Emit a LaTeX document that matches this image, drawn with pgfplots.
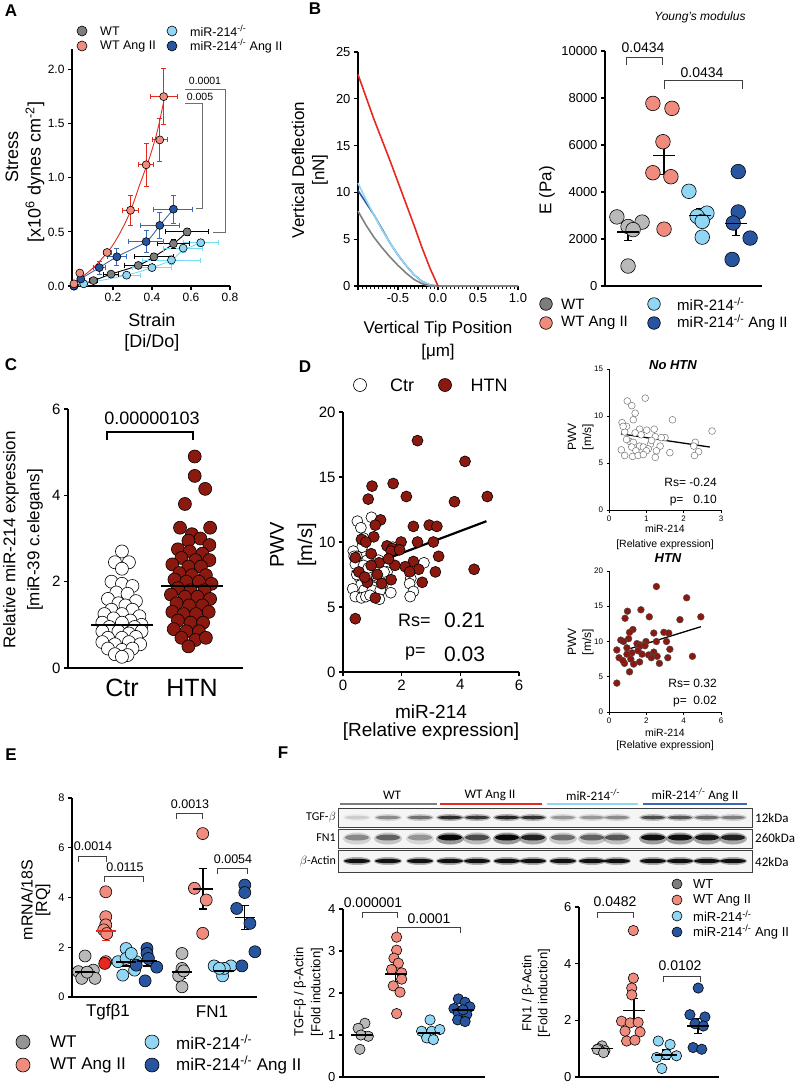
\documentclass[border=0pt]{standalone}
\usepackage{pgfplots}
\usepackage{pgfplotstable}
\pgfplotsset{compat=1.18}
\usepackage{fontspec}
\setmainfont{Liberation Sans}
\newfontfamily\calib{Carlito}
\newcommand{\fs}[1]{\fontsize{#1}{#1}\selectfont}
\newcommand{\ko}{\textsuperscript{-/-}}
\definecolor{wtd}{RGB}{125,125,125}
\definecolor{wtl}{RGB}{185,185,185}
\definecolor{sal}{RGB}{240,140,125}
\definecolor{lb}{RGB}{145,215,245}
\definecolor{db}{RGB}{40,85,160}
\definecolor{htn}{RGB}{140,25,15}
\definecolor{redl}{RGB}{230,40,30}
\definecolor{cyl}{RGB}{120,220,240}
\definecolor{bll}{RGB}{55,105,180}
\definecolor{brk}{RGB}{110,110,110}
\pgfplotsset{
  gp/.style={scale only axis, axis lines=left,
    axis line style={-, line width=1.4pt, black},
    tick align=outside, major tick length=4pt,
    tick style={line width=1.2pt, black},
    /pgf/number format/assume math mode=true, clip=false},
  dots/.style 2 args={only marks, mark=*, mark size=#2,
    mark options={fill=#1, draw=black, line width=0.6pt}},
  meanbar/.style={only marks, mark=-, mark size=#1,
    mark options={draw=black, line width=1.5pt},
    error bars/y dir=both, error bars/y explicit,
    error bars/error bar style={line width=1.5pt, black},
    error bars/error mark options={rotate=90, line width=1.5pt, black, mark size=4pt}},
  xyerr/.style={error bars/x dir=both, error bars/x explicit, error bars/y dir=both, error bars/y explicit,
    error bars/error bar style={#1, line width=0.9pt},
    error bars/error mark options={rotate=90, #1, line width=0.9pt, mark size=2.5pt}},
}
\pgfplotstableread[row sep=\\]{x y\\
2.54 17.8\\ 4.16 16.2\\ 1.71 14.5\\ 0.99 14.3\\ 0.86 13.3\\ 2.16 13.5\\ 3.80 13.1\\ 4.92 13.5\\
1.28 11.7\\ 1.10 11.3\\ 2.94 11.3\\ 3.20 11.2\\ 2.40 11.2\\ 1.05 10.4\\ 0.63 10.2\\ 0.78 10.0\\
1.98 10.0\\ 2.54 10.0\\ 3.08 10.0\\ 1.50 9.7\\ 1.68 9.5\\ 0.42 8.8\\ 0.96 9.1\\ 1.64 9.3\\
3.26 8.9\\ 2.40 8.5\\ 1.23 8.4\\ 0.96 8.2\\ 1.77 8.2\\ 2.12 8.1\\ 2.58 7.9\\ 4.47 7.9\\
0.54 7.7\\ 2.27 7.7\\ 3.15 7.7\\ 1.17 7.5\\ 0.83 6.9\\ 1.32 6.8\\ 1.64 7.1\\ 2.70 6.9\\
1.10 5.7\\ 0.42 4.1\\ 1.55 8.7\\ 1.93 9.4\\ 0.74 7.3\\
}\htndata
\pgfplotstableread[row sep=\\]{x y\\
0.49 11.6\\ 0.97 11.9\\ 0.61 11.1\\ 0.70 10.3\\ 0.65 9.6\\ 1.70 9.6\\ 0.35 9.3\\ 0.47 8.9\\
1.01 8.5\\ 1.21 8.6\\ 0.82 8.6\\ 2.76 8.4\\ 0.42 8.3\\ 0.70 8.2\\ 0.86 8.0\\ 1.24 7.8\\
1.50 7.7\\ 0.55 7.3\\ 0.65 7.2\\ 1.11 7.0\\ 0.82 6.8\\ 1.37 6.8\\ 2.31 7.2\\ 2.27 6.8\\
0.61 6.7\\ 0.92 6.7\\ 1.05 6.5\\ 0.33 6.4\\ 0.72 6.3\\ 1.00 6.3\\ 1.27 6.3\\ 1.63 6.1\\
2.40 6.2\\ 0.42 5.8\\ 0.63 5.7\\ 0.78 5.8\\ 0.92 5.9\\ 1.24 5.6\\ 2.29 5.8\\ 0.38 8.9\\
1.14 7.4\\ 1.40 7.7\\ 0.47 7.5\\
}\ctrdata
\begin{document}
\begin{tikzpicture}[x=1pt,y=1pt]
\useasboundingbox (0pt,0pt) rectangle (800pt,-1085pt);
% ---------------- panel letters
\foreach \l/\px/\py in {A/11/-11, B/315/-9, C/11/-365, D/305/-367, E/11/-755, F/283/-753}
  \node[font=\fs{17}\bfseries, inner sep=0] at (\px pt,\py pt) {\l};

% ================= A
\begin{axis}[gp, anchor=south west, at={(72pt,-286pt)}, width=158pt, height=237pt,
  xmin=-0.01, xmax=0.8, ymin=0, ymax=2.19,
  xtick={0.2,0.4,0.6,0.8}, ytick={0,0.5,1,1.5,2},
  tick label style={font=\fs{12}},
  yticklabel style={/pgf/number format/.cd, fixed, fixed zerofill, precision=1},
  xticklabel style={/pgf/number format/.cd, fixed, fixed zerofill, precision=1}]
\addplot[cyl, line width=0.9pt, smooth] coordinates {(0,0) (0.05,0.02) (0.27,0.1) (0.4,0.17) (0.5,0.24) (0.56,0.33) (0.65,0.4)};
\addplot[black, line width=0.9pt, smooth] coordinates {(0,0) (0.1,0.05) (0.19,0.11) (0.33,0.19) (0.41,0.27) (0.51,0.39) (0.58,0.5)};
\addplot[bll, line width=0.9pt, smooth] coordinates {(0,0) (0.035,0.065) (0.13,0.17) (0.22,0.27) (0.37,0.41) (0.44,0.56) (0.51,0.71)};
\addplot[redl, line width=0.9pt, smooth] coordinates {(0,0.03) (0.1,0.17) (0.2,0.38) (0.28,0.65) (0.34,0.95) (0.39,1.2) (0.43,1.45) (0.465,1.75)};
\addplot[dots={lb}{4}, xyerr=cyl]
  table[x error=ex, y error=ey, row sep=\\] {x y ex ey\\ 0 0 0 0\\ 0.05 0.02 0.02 0.01\\ 0.27 0.10 0.07 0.02\\ 0.40 0.17 0.10 0.03\\ 0.50 0.24 0.15 0.04\\ 0.56 0.35 0.10 0.04\\ 0.65 0.40 0.09 0.03\\};
\addplot[dots={wtd}{4}, xyerr=black]
  table[x error=ex, y error=ey, row sep=\\] {x y ex ey\\ 0 0 0 0\\ 0.10 0.05 0.02 0.01\\ 0.19 0.11 0.04 0.02\\ 0.33 0.19 0.07 0.03\\ 0.41 0.27 0.10 0.03\\ 0.51 0.39 0.08 0.04\\ 0.58 0.50 0.11 0.03\\};
\addplot[dots={db}{4}, xyerr=bll]
  table[x error=ex, y error=ey, row sep=\\] {x y ex ey\\ 0 0 0 0\\ 0.035 0.065 0.01 0.02\\ 0.13 0.17 0.03 0.06\\ 0.22 0.27 0.05 0.08\\ 0.37 0.41 0.09 0.10\\ 0.44 0.56 0.10 0.12\\ 0.51 0.71 0.10 0.13\\};
\addplot[dots={sal}{4}, xyerr=redl]
  table[x error=ex, y error=ey, row sep=\\] {x y ex ey\\ 0 0.02 0 0\\ 0.03 0.12 0.01 0.02\\ 0.17 0.31 0.02 0.03\\ 0.29 0.70 0.04 0.14\\ 0.37 1.12 0.04 0.20\\ 0.44 1.35 0.04 0.20\\ 0.46 1.75 0.07 0.26\\};
\end{axis}

% ================= B left
\begin{axis}[gp, anchor=south west, at={(358pt,-286pt)}, width=160pt, height=234pt,
  xmin=-1, xmax=1, ymin=0, ymax=25,
  xtick={-1,-0.5,0,0.5,1}, xticklabels={,-0.5,0.0,0.5,1.0},
  extra x ticks={-0.95,-0.9,-0.85,-0.8,-0.75,-0.7,-0.65,-0.6,-0.55,-0.45,-0.4,-0.35,-0.3,-0.25,-0.2,-0.15,-0.1,-0.05,0.05,0.1,0.15,0.2,0.25,0.3,0.35,0.4,0.45,0.55,0.6,0.65,0.7,0.75,0.8,0.85,0.9,0.95},
  extra x tick labels={},
  extra x tick style={major tick length=3pt, tick style={line width=0.8pt, black}},
  ytick={0,5,10,15,20,25}, tick label style={font=\fs{13}}]
\addplot[db, line width=1.6pt] coordinates {(-1,10.2) (-0.9,8.9) (-0.8,7.6) (-0.7,6.1) (-0.6,4.6) (-0.5,3.3) (-0.4,2.2) (-0.3,1.2) (-0.2,0.5) (-0.1,0.1) (0,0)};
\addplot[lb, line width=1.6pt] coordinates {(-1,11) (-0.9,9.2) (-0.8,7.6) (-0.7,6.0) (-0.6,4.6) (-0.5,3.3) (-0.4,2.2) (-0.3,1.2) (-0.2,0.5) (-0.1,0.1) (0,0) (1,0)};
\addplot[gray, line width=1.6pt] coordinates {(-1,8) (-0.9,6.5) (-0.8,5.2) (-0.7,4.1) (-0.6,3.1) (-0.5,2.2) (-0.4,1.4) (-0.3,0.7) (-0.2,0.25) (-0.1,0) (1,0)};
\addplot[redl, line width=1.6pt] coordinates {(-1,22.6) (-0.9,20.2) (-0.8,17.8) (-0.7,15.6) (-0.6,13.4) (-0.5,11.1) (-0.4,8.8) (-0.3,6.5) (-0.2,4.1) (-0.1,1.9) (0,0)};
\end{axis}

% ================= B right
\begin{axis}[gp, anchor=south west, at={(605pt,-286pt)}, width=157pt, height=235pt,
  xmin=0.36, xmax=4.72, ymin=0, ymax=10000, xtick=\empty,
  ytick={0,2000,4000,6000,8000,10000}, scaled y ticks=false,
  yticklabel style={/pgf/number format/1000 sep={}}, tick label style={font=\fs{13}}]
\addplot[dots={wtl}{7.3}] coordinates {(0.69,2940) (1.39,2720) (1.0,2530) (1.14,2400) (1.0,850)};
\addplot[dots={sal}{7.3}] coordinates {(1.69,7770) (2.22,7560) (1.97,6140) (1.69,4820) (2.19,4650) (2.0,2420)};
\addplot[dots={lb}{7.3}] coordinates {(2.69,4030) (3.19,3100) (2.92,2960) (3.06,2750) (3.06,2080)};
\addplot[dots={db}{7.3}] coordinates {(4.06,4870) (4.06,3150) (3.92,2680) (4.39,2040) (3.89,1130)};
\addplot[meanbar=11] coordinates {(1,2300) +- (0,370) (2,5550) +- (0,800) (3,3000) +- (0,300) (4,2650) +- (0,500)};
\end{axis}

% ================= C
\begin{axis}[gp, anchor=south west, at={(68pt,-668pt)}, width=175pt, height=259pt,
  xmin=0.229, xmax=2.73, ymin=0, ymax=6, xtick=\empty, ytick={0,2,4,6},
  tick label style={font=\fs{15}}]
\addplot[dots={white}{6.5}] coordinates {(1.0,2.7) (0.9,2.45) (1.1,2.45) (1.0,2.3) (0.85,2.0) (1.0,1.95) (1.15,1.9) (0.92,1.75) (1.08,1.72) (0.8,1.6) (1.2,1.55) (0.95,1.5) (1.05,1.45) (0.85,1.35) (1.15,1.35) (0.75,1.25) (1.0,1.25) (1.25,1.2) (0.88,1.15) (1.12,1.1) (0.72,1.05) (1.0,1.05) (1.28,1.0) (0.82,0.95) (1.18,0.95) (0.72,0.85) (0.95,0.85) (1.1,0.8) (1.28,0.85) (0.8,0.7) (1.0,0.7) (1.2,0.72) (0.72,0.6) (0.9,0.55) (1.1,0.6) (1.26,0.55) (0.8,0.45) (1.0,0.42) (1.15,0.45) (0.9,0.32) (1.08,0.3) (1.0,0.26)};
\addplot[dots={htn}{6.5}] coordinates {(2.04,4.9) (2.04,4.45) (2.19,4.15) (1.9,3.8) (1.83,3.25) (2.26,3.25) (2.0,3.1) (2.12,3.0) (1.95,2.95) (2.25,2.85) (1.8,2.75) (1.97,2.7) (2.15,2.65) (1.85,2.55) (2.05,2.5) (2.25,2.5) (1.72,2.4) (1.95,2.35) (2.13,2.35) (1.82,2.2) (2.0,2.15) (2.2,2.15) (1.75,2.05) (1.92,2.0) (2.1,2.0) (2.28,1.95) (1.8,1.85) (1.98,1.8) (2.18,1.8) (1.7,1.7) (1.9,1.65) (2.08,1.65) (2.26,1.6) (1.78,1.5) (1.96,1.45) (2.15,1.45) (1.72,1.3) (1.88,1.25) (2.06,1.25) (2.24,1.3) (1.8,1.1) (1.98,1.05) (2.16,1.05) (1.74,0.9) (1.92,0.85) (2.1,0.85) (1.85,0.7) (2.05,0.65) (2.2,0.7) (1.95,0.5)};
\addplot[meanbar=31] coordinates {(1,1.0) +- (0,0.07) (2,1.9) +- (0,0.12)};
\end{axis}

% ================= D main
\begin{axis}[gp, anchor=south west, at={(343pt,-672pt)}, width=176pt, height=260pt,
  xmin=0, xmax=6, ymin=0, ymax=20, xtick={0,2,4,6}, ytick={0,5,10,15,20},
  tick label style={font=\fs{15}}]
\addplot[dots={white}{5.5}] table {\ctrdata};
\addplot[dots={htn}{5.5}] table {\htndata};
\addplot[black, line width=2.2pt] coordinates {(0.3,7.7) (4.89,11.6)};
\end{axis}

% ================= No HTN
\begin{axis}[gp, anchor=south west, axis line style={-, line width=0.9pt}, tick style={line width=0.8pt, black}, major tick length=2.5pt,
  at={(609pt,-510pt)}, width=112pt, height=141pt, xmin=0, xmax=3, ymin=0, ymax=15,
  xtick={0,1,2,3}, ytick={0,5,10,15}, tick label style={font=\fs{8}}]
\addplot[only marks, mark=*, mark size=3.4, mark options={fill=white, draw=black!55, line width=0.5pt}] table {\ctrdata};
\addplot[black, line width=1.3pt] coordinates {(0.32,8.1) (2.7,6.7)};
\end{axis}

% ================= HTN small
\begin{axis}[gp, anchor=south west, axis line style={-, line width=0.9pt}, tick style={line width=0.8pt, black}, major tick length=2.5pt,
  at={(609pt,-712pt)}, width=112pt, height=141pt, xmin=0, xmax=6, ymin=0, ymax=20,
  xtick={0,2,4,6}, ytick={0,5,10,15,20}, tick label style={font=\fs{8}}]
\addplot[only marks, mark=*, mark size=3.4, mark options={fill=htn, draw=black!70, line width=0.4pt}] table {\htndata};
\addplot[black, line width=1.3pt] coordinates {(1.14,9.0) (4.92,12.1)};
\end{axis}

% ================= E
\begin{axis}[gp, anchor=south west, at={(72pt,-997pt)}, width=185pt, height=199pt,
  xmin=0.37, xmax=9.3, ymin=0, ymax=8, xtick=\empty, ytick={0,2,4,6,8},
  tick label style={font=\fs{11}}]
\addplot[dots={wtl}{6}] coordinates {(0.68,1.02) (1.0,1.65) (1.4,1.08) (0.84,0.75) (1.48,0.75) (1.1,1.0) (5.68,1.75) (5.68,1.15) (5.52,0.85) (5.68,0.41) (5.76,1.05)};
\addplot[dots={sal}{6}] coordinates {(2.0,4.23) (2.0,3.23) (2.0,2.9) (1.9,2.7) (2.05,2.55) (2.0,1.42) (6.68,6.57) (6.28,4.37) (6.85,3.9) (6.68,2.56)};
\addplot[dots={redl}{6}] coordinates {(1.95,1.35)};
\addplot[dots={lb}{6}] coordinates {(2.98,1.95) (2.59,1.42) (2.98,1.55) (3.47,1.42) (2.82,0.88) (3.39,1.08) (3.23,1.75) (7.23,1.25) (7.64,0.85) (8.04,1.25) (7.72,1.15) (7.48,1.15)};
\addplot[dots={db}{6}] coordinates {(3.99,1.95) (3.99,1.75) (4.46,1.2) (3.47,1.28) (3.9,0.65) (4.06,1.55) (8.71,4.5) (8.71,4.2) (8.32,3.56) (8.96,2.96) (9.2,1.82) (8.57,1.25)};
\addplot[meanbar=10] coordinates {(1,1.0) +- (0,0.1) (3,1.4) +- (0,0.15) (4,1.45) +- (0,0.2) (5.7,1.0) +- (0,0.25) (6.7,4.35) +- (0,0.82) (7.7,1.05) +- (0,0.05) (8.7,3.2) +- (0,0.48)};
\addplot[meanbar=10, mark options={draw=redl, line width=1.5pt}, error bars/error bar style={redl, line width=1.5pt},
  error bars/error mark options={rotate=90, redl, line width=1.5pt, mark size=4pt}] coordinates {(2,2.65) +- (0,0.38)};
\end{axis}

% ================= F TGF
\begin{axis}[gp, anchor=south west, at={(343pt,-1077pt)}, width=142pt, height=168pt,
  xmin=0.44, xmax=4.65, ymin=0, ymax=4, xtick=\empty, ytick={0,1,2,3,4},
  tick label style={font=\fs{13}}]
\addplot[dots={wtl}{5.2}] coordinates {(1.09,1.28) (0.89,1.16) (1.19,0.97) (0.94,0.66) (0.97,1.0)};
\addplot[dots={sal}{5.2}] coordinates {(2.03,3.33) (2.03,3.02) (1.95,2.83) (2.08,2.71) (1.88,2.56) (2.18,2.48) (2.18,2.33) (1.93,2.17) (2.13,2.02) (2.03,1.51)};
\addplot[dots={lb}{5.2}] coordinates {(3.02,1.36) (2.77,1.09) (3.07,1.09) (3.31,1.13) (2.92,0.93) (3.12,0.89)};
\addplot[dots={db}{5.2}] coordinates {(3.86,1.86) (4.06,1.78) (3.73,1.63) (4.2,1.67) (3.86,1.52) (4.11,1.49) (3.84,1.36) (4.06,1.32) (4.0,1.6)};
\addplot[meanbar=11] coordinates {(1,1.0) +- (0,0.08) (2,2.45) +- (0,0.18) (3,1.05) +- (0,0.07) (4,1.6) +- (0,0.07)};
\end{axis}

% ================= F FN1
\begin{axis}[gp, anchor=south west, at={(579pt,-1077pt)}, width=140pt, height=170pt,
  xmin=0.28, xmax=4.66, ymin=0, ymax=6, xtick=\empty, ytick={0,2,4,6},
  tick label style={font=\fs{13}}]
\addplot[dots={wtl}{5.2}] coordinates {(1.0,1.1) (0.89,1.0) (1.09,0.93) (0.85,0.97) (1.05,0.86)};
\addplot[dots={sal}{5.2}] coordinates {(1.98,5.17) (1.98,3.49) (1.93,3.14) (1.93,2.9) (1.61,1.97) (1.88,1.91) (2.13,1.93) (1.72,1.62) (2.19,1.59) (1.77,1.27) (2.03,1.3)};
\addplot[dots={lb}{5.2}] coordinates {(2.76,1.27) (3.13,1.15) (3.02,0.8) (2.71,0.69) (2.87,0.3) (3.33,0.75)};
\addplot[dots={db}{5.2}] coordinates {(4.01,3.14) (3.75,2.2) (4.22,2.12) (3.91,1.88) (4.17,1.8) (3.85,1.04) (4.12,0.98)};
\addplot[meanbar=11] coordinates {(1,1.0) +- (0,0.03) (2,2.35) +- (0,0.42) (3,0.78) +- (0,0.17) (4,1.8) +- (0,0.27)};
\end{axis}

% ================= legend markers (overlay axis in picture units)
\begin{axis}[scale only axis, anchor=south west, at={(0pt,-1085pt)}, width=800pt, height=1085pt,
  xmin=0, xmax=800, ymin=-1085, ymax=0, hide axis, clip=false]
\addplot[dots={wtd}{5}] coordinates {(82,-31) (677,-884)};
\addplot[dots={sal}{5}] coordinates {(82,-46) (677,-900)};
\addplot[dots={lb}{5}] coordinates {(172,-31) (677,-916)};
\addplot[dots={db}{5}] coordinates {(172,-46) (677,-932)};
\addplot[dots={wtd}{6.3}] coordinates {(546,-304)};
\addplot[dots={sal}{6.3}] coordinates {(546,-323)};
\addplot[dots={lb}{6.3}] coordinates {(654,-304)};
\addplot[dots={db}{6.3}] coordinates {(654,-323)};
\addplot[dots={white}{6.5}] coordinates {(360,-385)};
\addplot[dots={htn}{6.5}] coordinates {(445,-385)};
\addplot[dots={wtl!80!black}{7}] coordinates {(23,-1042)};
\addplot[dots={sal}{7}] coordinates {(23,-1065)};
\addplot[dots={lb}{7}] coordinates {(152,-1042)};
\addplot[dots={db}{7}] coordinates {(152,-1065)};
\end{axis}

% ================= all annotations (TikZ, picture units)
% A
\draw[brk, line width=0.8pt] (185,-89) -- (225,-89) -- (225,-232) -- (213,-232);
\draw[brk, line width=0.8pt] (185,-103) -- (202,-103) -- (202,-208) -- (196,-208);
\node[font=\fs{10.5}, inner sep=0] at (205,-81) {0.0001};
\node[font=\fs{10.5}, inner sep=0] at (200,-97) {0.005};
\node[rotate=90, font=\fs{18}, inner sep=0] at (12,-157) {Stress};
\node[rotate=90, font=\fs{18}, inner sep=0] at (35,-172) {[x10\textsuperscript{6} dynes cm\textsuperscript{-2}]};
\node[font=\fs{18}, inner sep=0] at (152,-320) {Strain};
\node[font=\fs{18}, inner sep=0] at (152,-343) {[Di/Do]};
\foreach \t/\px/\py in {WT/100/-31, WT Ang II/100/-46, miR-214\ko/190/-31, miR-214\ko{} Ang II/190/-46}
  \node[font=\fs{12.5}, inner sep=0, anchor=west] at (\px,\py) {\t};
% B left
\node[rotate=90, font=\fs{17}, inner sep=0] at (298,-170) {Vertical Deflection};
\node[rotate=90, font=\fs{17}, inner sep=0] at (320,-170) {[nN]};
\node[font=\fs{17}, inner sep=0] at (438,-329) {Vertical Tip Position};
\node[font=\fs{17}, inner sep=0] at (438,-352) {[μm]};
% B right
\draw[black!75, line width=1pt] (626,-65) -- (626,-57) -- (662,-57) -- (662,-65);
\draw[black!75, line width=1pt] (664,-89) -- (664,-80) -- (742,-80) -- (742,-89);
\node[font=\fs{14}, inner sep=0] at (643,-48) {0.0434};
\node[font=\fs{14}, inner sep=0] at (702,-73) {0.0434};
\node[font=\fs{12}\itshape, inner sep=0] at (700,-17) {Young’s modulus};
\node[rotate=90, font=\fs{17}, inner sep=0] at (547,-190) {E (Pa)};
\foreach \t/\px/\py in {WT/561/-304, WT Ang II/561/-323, miR-214\ko/677/-304, miR-214\ko{} Ang II/677/-323}
  \node[font=\fs{15}, inner sep=0, anchor=west] at (\px,\py) {\t};
% C
\draw[black, line width=1.5pt] (107,-440) -- (107,-432) -- (193,-432) -- (193,-440);
\node[font=\fs{18}, inner sep=0] at (152,-418) {0.00000103};
\node[rotate=90, font=\fs{17}, inner sep=0] at (11,-540) {Relative miR-214 expression};
\node[rotate=90, font=\fs{17}, inner sep=0] at (35,-540) {[miR-39 c.elegans]};
\node[font=\fs{25}, inner sep=0] at (122,-688) {Ctr};
\node[font=\fs{25}, inner sep=0] at (192,-688) {HTN};
% D main
\node[font=\fs{18}, inner sep=0] at (402,-385) {Ctr};
\node[font=\fs{18}, inner sep=0] at (489,-385) {HTN};
\node[rotate=90, font=\fs{20}, inner sep=0] at (277,-545) {PWV};
\node[rotate=90, font=\fs{20}, inner sep=0] at (307,-545) {[m/s]};
\node[font=\fs{18}, inner sep=0, anchor=west] at (398,-620) {Rs=};
\node[font=\fs{21}, inner sep=0, anchor=west] at (444,-620) {0.21};
\node[font=\fs{18}, inner sep=0, anchor=west] at (405,-654) {p=};
\node[font=\fs{21}, inner sep=0, anchor=west] at (444,-654) {0.03};
\node[font=\fs{19}, inner sep=0] at (431,-712) {miR-214};
\node[font=\fs{19}, inner sep=0] at (431,-732) {[Relative expression]};
% No HTN
\node[font=\fs{13}\bfseries\itshape, inner sep=0] at (673,-365) {No HTN};
\node[rotate=90, font=\fs{12}, inner sep=0] at (572,-437) {PWV};
\node[rotate=90, font=\fs{12}, inner sep=0] at (588,-437) {[m/s]};
\node[font=\fs{12}, inner sep=0, anchor=east] at (717,-482) {Rs= -0.24};
\node[font=\fs{12}, inner sep=0, anchor=east] at (717,-501) {p=\ \ \ 0.10};
\node[font=\fs{10.5}, inner sep=0] at (665,-529) {miR-214};
\node[font=\fs{10.5}, inner sep=0] at (665,-545) {[Relative expression]};
% HTN small
\node[font=\fs{13}\bfseries\itshape, inner sep=0] at (668,-558) {HTN};
\node[rotate=90, font=\fs{12}, inner sep=0] at (572,-642) {PWV};
\node[rotate=90, font=\fs{12}, inner sep=0] at (588,-642) {[m/s]};
\node[font=\fs{12}, inner sep=0, anchor=east] at (717,-683) {Rs= 0.32};
\node[font=\fs{12}, inner sep=0, anchor=east] at (717,-702) {p=\ \ 0.02};
\node[font=\fs{10.5}, inner sep=0] at (665,-733) {miR-214};
\node[font=\fs{10.5}, inner sep=0] at (665,-746) {[Relative expression]};
% E
\draw[black!75, line width=1pt] (78,-862) -- (78,-856) -- (106,-856) -- (106,-862);
\draw[black!75, line width=1pt] (104,-882) -- (104,-876) -- (143,-876) -- (143,-882);
\draw[black!75, line width=1pt] (176,-819) -- (176,-813) -- (202,-813) -- (202,-819);
\draw[black!75, line width=1pt] (217,-874) -- (217,-868) -- (247,-868) -- (247,-874);
\node[font=\fs{12.5}, inner sep=0] at (93,-846) {0.0014};
\node[font=\fs{12.5}, inner sep=0] at (125,-867) {0.0115};
\node[font=\fs{12.5}, inner sep=0] at (190,-804) {0.0013};
\node[font=\fs{12.5}, inner sep=0] at (233,-859) {0.0054};
\node[rotate=90, font=\fs{16}, inner sep=0] at (27,-900) {mRNA/18S};
\node[rotate=90, font=\fs{16}, inner sep=0] at (43,-900) {[RQ]};
\node[font=\fs{17}, inner sep=0] at (108,-1012) {Tgfβ1};
\node[font=\fs{17}, inner sep=0] at (212,-1012) {FN1};
\foreach \t/\px/\py in {WT/50/-1042, WT Ang II/50/-1065, miR-214\ko/176/-1042, miR-214\ko{} Ang II/176/-1065}
  \node[font=\fs{17}, inner sep=0, anchor=west] at (\px,\py) {\t};
% F blot
\draw[wtd, line width=2.5pt] (340,-804) -- (437,-804);
\draw[redl, line width=2.5pt] (440,-804) -- (542,-804);
\draw[lb, line width=2.5pt] (547,-804) -- (638,-804);
\draw[bll, line width=2.5pt] (643,-804) -- (747,-804);
\node[font=\calib\fs{13}, inner sep=0] at (392,-795) {WT};
\node[font=\calib\fs{13}, inner sep=0] at (490,-795) {WT Ang II};
\node[font=\calib\fs{13}, inner sep=0] at (593,-795) {miR-214\ko};
\node[font=\calib\fs{13}, inner sep=0] at (695,-795) {miR-214\ko{} Ang II};
\fill[black!4] (338,-808) rectangle (752,-827);
\fill[black!4] (338,-829) rectangle (752,-848);
\fill[black!4] (338,-850) rectangle (752,-872);
\foreach \x/\i in {357/0.12, 388/0.35, 420/0.45, 450/0.75, 477/0.7, 507/0.78, 533/0.72, 563/0.3, 592/0.3, 617/0.35, 653/0.6, 680/0.55, 707/0.45, 733/0.4}
  {\fill[black, opacity=\i*0.35] (\x,-817.5) ellipse (14 and 3.5); \fill[black, opacity=\i] (\x,-817.5) ellipse (12 and 1.8);}
\foreach \x/\i in {357/0.35, 388/0.5, 420/0.3, 450/0.95, 477/0.6, 507/0.95, 533/0.8, 563/0.45, 592/0.5, 617/0.55, 653/0.9, 680/0.9, 707/0.85, 733/0.8}
  {\fill[black, opacity=\i*0.4] (\x,-838.5) ellipse (14 and 6); \fill[black, opacity=\i] (\x,-837.5) ellipse (12 and 3);}
\foreach \x in {357,388,420,450,477,507,533,563,592,617,653,680,707,733}
  {\fill[black, opacity=0.3] (\x,-861) ellipse (14 and 4); \fill[black, opacity=0.9] (\x,-861) ellipse (13 and 2.2);}
\draw[black!75, line width=0.8pt] (338,-808) rectangle (752,-827);
\draw[black!75, line width=0.8pt] (338,-829) rectangle (752,-848);
\draw[black!75, line width=0.8pt] (338,-850) rectangle (752,-872);
\node[font=\calib\fs{12}, inner sep=0, anchor=east] at (336,-817) {TGF-$\beta$};
\node[font=\calib\fs{12}, inner sep=0, anchor=east] at (336,-838) {FN1};
\node[font=\calib\fs{12}, inner sep=0, anchor=east] at (336,-861) {$\beta$-Actin};
\node[font=\calib\fs{13}, inner sep=0, anchor=west] at (755,-818) {12kDa};
\node[font=\calib\fs{13}, inner sep=0, anchor=west] at (755,-838) {260kDa};
\node[font=\calib\fs{13}, inner sep=0, anchor=west] at (755,-862) {42kDa};
% F TGF
\draw[black!75, line width=1pt] (362,-918) -- (362,-912) -- (397,-912) -- (397,-918);
\draw[black!75, line width=1pt] (397,-933) -- (397,-927) -- (460,-927) -- (460,-933);
\node[font=\fs{14}, inner sep=0] at (373,-903) {0.000001};
\node[font=\fs{14}, inner sep=0] at (429,-919) {0.0001};
\node[rotate=90, font=\fs{13}, inner sep=0] at (300,-992) {TGF-β / β-Actin};
\node[rotate=90, font=\fs{13}, inner sep=0] at (317,-992) {[Fold induction]};
% F FN1
\draw[black!75, line width=1pt] (597,-918) -- (597,-912) -- (633,-912) -- (633,-918);
\draw[black!75, line width=1pt] (663,-982) -- (663,-976) -- (700,-976) -- (700,-982);
\node[font=\fs{14}, inner sep=0] at (615,-902) {0.0482};
\node[font=\fs{14}, inner sep=0] at (680,-966) {0.0102};
\node[rotate=90, font=\fs{13}, inner sep=0] at (528,-993) {FN1 / β-Actin};
\node[rotate=90, font=\fs{13}, inner sep=0] at (544,-993) {[Fold induction]};
\foreach \t/\py in {WT/-884, WT Ang II/-900, miR-214\ko/-916, miR-214\ko{} Ang II/-932}
  \node[font=\fs{13}, inner sep=0, anchor=west] at (693,\py) {\t};
\end{tikzpicture}
\end{document}
